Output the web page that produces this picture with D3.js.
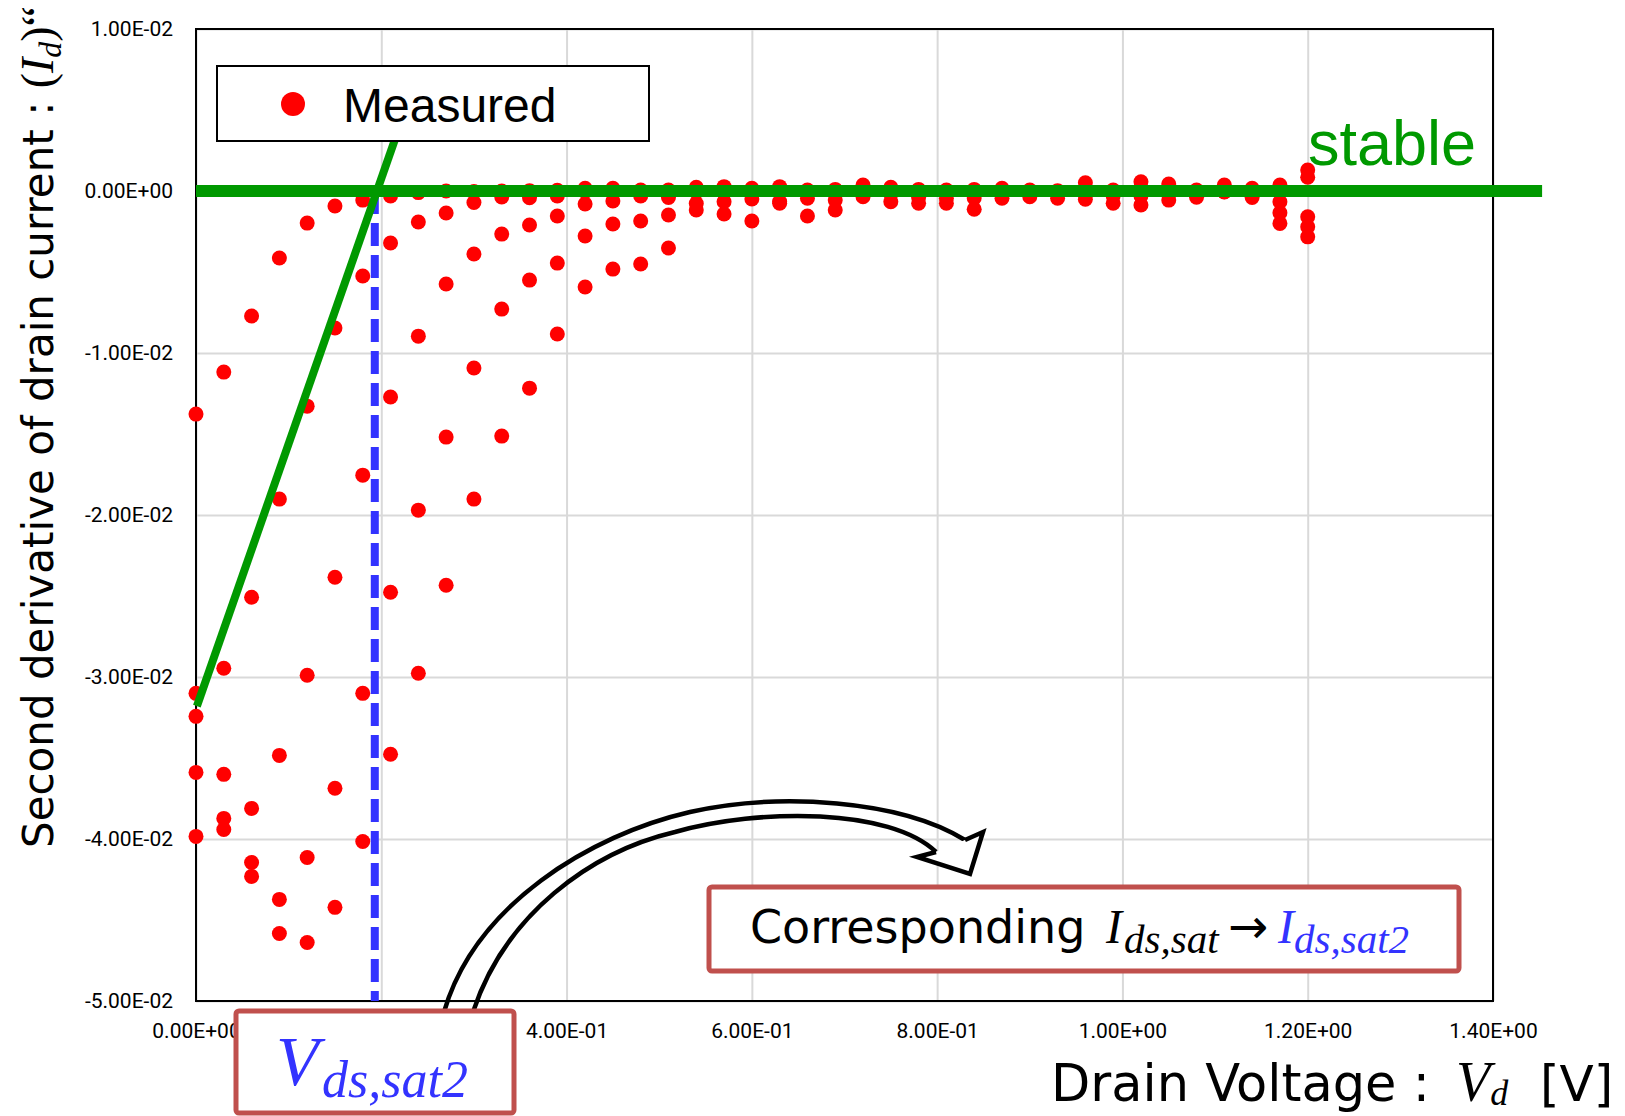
<!DOCTYPE html>
<html>
<head>
<meta charset="utf-8">
<script src="https://cdn.jsdelivr.net/npm/d3@7"></script>
<style>
  html, body { margin: 0; padding: 0; background: #fff; }
  text { white-space: pre; }
</style>
</head>
<body>
<div id="chart"></div>
<script>
// drain voltage steps [V]
const drainVoltage = [0.00, 0.03, 0.06, 0.09, 0.12, 0.15, 0.18, 0.21, 0.24, 0.27, 0.30,
    0.33, 0.36, 0.39, 0.42, 0.45, 0.48, 0.51, 0.54, 0.57, 0.60, 0.63, 0.66, 0.69, 0.72,
    0.75, 0.78, 0.81, 0.84, 0.87, 0.90, 0.93, 0.96, 0.99, 1.02, 1.05, 1.08, 1.11, 1.14,
    1.17, 1.20];

// second derivative values, in units of 1E-03
const seriesA = [-13.77, -11.18, -7.72, -4.14, -1.98, -0.93, -0.56, -0.31, -0.10, 0.00, -0.03,
    0.00, 0.02, 0.05, 0.17, 0.17, 0.06, 0.06, 0.23, 0.27, 0.17, 0.27, 0.06, 0.10, 0.37,
    0.23, 0.10, 0.06, 0.10, 0.17, 0.06, 0.02, 0.51, 0.06, 0.57, 0.43, 0.06, 0.37, 0.17,
    0.37, 1.30];
const seriesB = [-31.01, -29.46, -25.08, -19.02, -13.28, -8.46, -5.25, -3.21, -1.91, -1.36, -0.71,
    -0.37, -0.41, -0.31, -0.05, -0.05, -0.04, -0.04, 0.00, -0.05, 0.00, -0.05, -0.04, 0.00, 0.05,
    -0.05, 0.00, -0.05, 0.00, -0.05, 0.00, -0.05, 0.05, 0.00, -0.05, 0.00, -0.05, 0.05, 0.00,
    0.00, 0.85];
const seriesC = [-32.43, -36.01, -38.11, -34.84, -29.89, -23.84, -17.54, -12.72, -8.96, -5.74, -3.89,
    -2.66, -2.10, -1.54, -0.80, -0.62, -0.31, -0.40, -0.06, -0.12, -0.03, -0.03, -0.03, -0.06, -0.06,
    -0.10, -0.10, -0.12, -0.06, -0.10, -0.06, -0.10, -0.06, -0.10, -0.12, -0.06, -0.10, -0.06, -0.10,
    -0.66, -1.59];
const seriesD = [-35.89, -38.73, -41.45, -43.73, -41.14, -36.87, -31.01, -24.77, -19.70, -15.19, -10.93,
    -7.29, -5.50, -4.45, -2.78, -2.04, -1.85, -1.48, -0.77, -0.66, -0.49, -0.65, -0.45, -0.56, -0.15,
    -0.20, -0.40, -0.45, -0.43, -0.15, -0.15, -0.20, -0.25, -0.30, -0.30, -0.20, -0.15, -0.05, -0.15,
    -1.34, -2.21];
const seriesE = [-39.84, -39.41, -42.31, -45.83, -46.39, -44.22, -40.15, -34.77, -29.77, -24.34, -19.02,
    -15.13, -12.17, -8.83, -5.93, -4.82, -4.51, -3.52, -1.17, -1.42, -1.85, -0.75, -1.54, -1.17, -0.35,
    -0.66, -0.76, -0.76, -1.13, -0.45, -0.35, -0.45, -0.51, -0.76, -0.86, -0.56, -0.39, 0.02, -0.40,
    -2.00, -2.83];

const yTicks = [0.01, 0, -0.01, -0.02, -0.03, -0.04, -0.05];
const xTicks = [0, 0.2, 0.4, 0.6, 0.8, 1.0, 1.2, 1.4];

// guide lines (data coordinates)
const stableLine = [[0, 0], [1.453, 0]];
const slopeLine = [[0.001, -0.0318], [0.232, 0.006]];
const vdsSat2 = 0.193;

const width = 1625, height = 1116;
const margin = { top: 29, right: 132, bottom: 115, left: 196 };

const svg = d3.select("#chart").append("svg")
    .attr("width", width)
    .attr("height", height)
    .style("display", "block");

svg.append("rect").attr("width", width).attr("height", height).attr("fill", "#fff");

const x = d3.scaleLinear().domain([0, 1.4]).range([margin.left, width - margin.right]);
const y = d3.scaleLinear().domain([-0.05, 0.01]).range([height - margin.bottom, margin.top]);

function fmtE(v) {
    const [m, e] = d3.format(".2e")(v).replace("\u2212", "-").split("e");
    const n = +e;
    return m + "E" + (n < 0 ? "-" : "+") + String(Math.abs(n)).padStart(2, "0");
}

// grid
svg.append("g")
    .attr("transform", `translate(0,${height - margin.bottom})`)
    .call(d3.axisBottom(x).tickValues(xTicks).tickSize(-(height - margin.top - margin.bottom)).tickFormat(""))
    .call(g => g.select(".domain").remove())
    .call(g => g.selectAll(".tick line").attr("stroke", "#d9d9d9").attr("stroke-width", 2));

svg.append("g")
    .attr("transform", `translate(${margin.left},0)`)
    .call(d3.axisLeft(y).tickValues(yTicks).tickSize(-(width - margin.left - margin.right)).tickFormat(""))
    .call(g => g.select(".domain").remove())
    .call(g => g.selectAll(".tick line").attr("stroke", "#d9d9d9").attr("stroke-width", 2));

// plot frame
svg.append("rect")
    .attr("x", x(0)).attr("y", y(0.01))
    .attr("width", x(1.4) - x(0)).attr("height", y(-0.05) - y(0.01))
    .attr("fill", "none").attr("stroke", "#000").attr("stroke-width", 2);

// tick labels
svg.append("g")
    .attr("transform", `translate(${margin.left},0)`)
    .call(d3.axisLeft(y).tickValues(yTicks).tickFormat(fmtE).tickSize(0).tickPadding(23))
    .call(g => g.select(".domain").remove())
    .call(g => g.selectAll(".tick text")
        .attr("fill", "#000")
        .style("font-family", "Roboto, sans-serif")
        .style("font-size", "21px"));

svg.append("g")
    .attr("transform", `translate(0,${height - margin.bottom})`)
    .call(d3.axisBottom(x).tickValues(xTicks).tickFormat(fmtE).tickSize(0).tickPadding(22))
    .call(g => g.select(".domain").remove())
    .call(g => g.selectAll(".tick text")
        .attr("fill", "#000")
        .style("font-family", "Roboto, sans-serif")
        .style("font-size", "21px"));

// measured points
const allSeries = [seriesA, seriesB, seriesC, seriesD, seriesE];
const points = [];
allSeries.forEach(s => s.forEach((v, i) => points.push({ vd: drainVoltage[i], val: v * 1e-3 })));

svg.append("g")
    .selectAll("circle")
    .data(points)
    .join("circle")
    .attr("cx", d => x(d.vd))
    .attr("cy", d => y(d.val))
    .attr("r", 7.5)
    .attr("fill", "#ff0000");

// Vds,sat2 marker
svg.append("line")
    .attr("x1", x(vdsSat2)).attr("x2", x(vdsSat2))
    .attr("y1", y(0)).attr("y2", y(-0.05))
    .attr("stroke", "#3333ff")
    .attr("stroke-width", 8)
    .attr("stroke-dasharray", "23,9");

// green lines
const line = d3.line().x(d => x(d[0])).y(d => y(d[1]));
svg.append("path").datum(stableLine).attr("d", line)
    .attr("stroke", "#009900").attr("stroke-width", 12).attr("fill", "none");
svg.append("path").datum(slopeLine).attr("d", line)
    .attr("stroke", "#009900").attr("stroke-width", 8).attr("fill", "none");

svg.append("text")
    .attr("x", 1308).attr("y", 165)
    .style("font-family", "Liberation Sans, Arial, sans-serif")
    .style("font-size", "63px")
    .attr("fill", "#009900")
    .text("stable");

// legend
const legend = svg.append("g");
legend.append("rect")
    .attr("x", 217).attr("y", 66).attr("width", 432).attr("height", 75)
    .attr("fill", "#fff").attr("stroke", "#000").attr("stroke-width", 2);
legend.append("circle").attr("cx", 293).attr("cy", 104).attr("r", 12).attr("fill", "#ff0000");
legend.append("text")
    .attr("x", 343).attr("y", 122)
    .style("font-family", "Liberation Sans, Arial, sans-serif")
    .style("font-size", "48px")
    .attr("fill", "#000")
    .text("Measured");

// curved arrow
const arrow = svg.append("g")
    .attr("fill", "none").attr("stroke", "#000").attr("stroke-width", 4.5)
    .attr("stroke-linejoin", "miter");
arrow.append("path").attr("d", "M444,1012 C475,905 590,835 690,812 C780,792 900,800 965,840");
arrow.append("path").attr("d", "M473,1012 C505,915 590,852 675,832 C760,808 890,808 936,852");
arrow.append("path")
    .attr("d", "M936,852 L917,857 L970,874 L983,832 L965,840")
    .attr("fill", "#fff");

// annotation boxes
const boxColor = "#c0504d";
svg.append("rect")
    .attr("x", 709).attr("y", 887).attr("width", 750).attr("height", 84).attr("rx", 3)
    .attr("fill", "#fff").attr("stroke", boxColor).attr("stroke-width", 5);

const corr = svg.append("text").attr("y", 943).attr("fill", "#000");
corr.append("tspan").attr("x", 750)
    .style("font-family", "DejaVu Sans, sans-serif").style("font-size", "46px")
    .text("Corresponding");
corr.append("tspan").attr("x", 1106)
    .style("font-family", "Liberation Serif, serif").style("font-style", "italic").style("font-size", "48px")
    .text("I");
corr.append("tspan").attr("x", 1124).attr("dy", 10)
    .style("font-family", "Liberation Serif, serif").style("font-style", "italic").style("font-size", "41px")
    .text("ds,sat");
corr.append("tspan").attr("x", 1228).attr("dy", -10)
    .style("font-family", "DejaVu Sans, sans-serif").style("font-size", "48px")
    .text("\u2192");
corr.append("tspan").attr("x", 1278)
    .attr("fill", "#3333ff")
    .style("font-family", "Liberation Serif, serif").style("font-style", "italic").style("font-size", "48px")
    .text("I");
corr.append("tspan").attr("x", 1294).attr("dy", 10)
    .attr("fill", "#3333ff")
    .style("font-family", "Liberation Serif, serif").style("font-style", "italic").style("font-size", "41px")
    .text("ds,sat2");

svg.append("rect")
    .attr("x", 236).attr("y", 1011).attr("width", 278).attr("height", 102).attr("rx", 3)
    .attr("fill", "#fff").attr("stroke", boxColor).attr("stroke-width", 5);

const vds = svg.append("text").attr("y", 1085).attr("fill", "#3333ff")
    .style("font-family", "Liberation Serif, serif").style("font-style", "italic");
vds.append("tspan").attr("x", 276).style("font-size", "70px").text("V");
vds.append("tspan").attr("x", 322).attr("dy", 12).style("font-size", "52px").text("ds,sat2");

// axis titles
const yTitle = svg.append("text")
    .attr("transform", "translate(53,848) rotate(-90)")
    .attr("fill", "#000")
    .style("font-family", "DejaVu Sans, sans-serif")
    .style("font-size", "42px");
yTitle.append("tspan").text("Second derivative of drain current : ");
yTitle.append("tspan").style("font-family", "Liberation Serif, serif").style("font-size", "46px").text("(");
yTitle.append("tspan").style("font-family", "Liberation Serif, serif").style("font-style", "italic")
    .style("font-size", "46px").text("I");
yTitle.append("tspan").attr("dy", 8).style("font-family", "Liberation Serif, serif").style("font-style", "italic")
    .style("font-size", "32px").text("d");
yTitle.append("tspan").attr("dy", -8).style("font-family", "Liberation Serif, serif")
    .style("font-size", "46px").text(")\u201C");

// x title: plain part, symbol, unit placed separately
const xTitleFont = "DejaVu Sans, sans-serif";
svg.append("text")
    .attr("x", 1051).attr("y", 1101)
    .attr("fill", "#000")
    .style("font-family", xTitleFont)
    .style("font-size", "51px")
    .text("Drain Voltage :");
const vdSym = svg.append("text")
    .attr("x", 1456).attr("y", 1101)
    .attr("fill", "#000")
    .style("font-family", "Liberation Serif, serif").style("font-style", "italic");
vdSym.append("tspan").style("font-size", "56px").text("V");
vdSym.append("tspan").attr("dy", 4).style("font-size", "36px").text("d");
svg.append("text")
    .attr("x", 1540).attr("y", 1101)
    .attr("fill", "#000")
    .style("font-family", xTitleFont)
    .style("font-size", "50px")
    .text("[V]");
</script>
</body>
</html>
